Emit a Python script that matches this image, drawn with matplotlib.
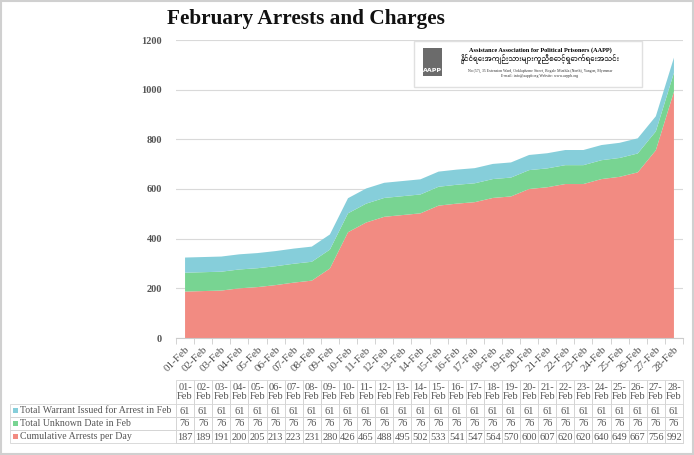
import matplotlib
matplotlib.use("Agg")
import matplotlib.pyplot as plt
from matplotlib.patches import Rectangle
import numpy as np

days = ["01-Feb", "02-Feb", "03-Feb", "04-Feb", "05-Feb", "06-Feb", "07-Feb",
        "08-Feb", "09-Feb", "10-Feb", "11-Feb", "12-Feb", "13-Feb", "14-Feb",
        "15-Feb", "16-Feb", "17-Feb", "18-Feb", "19-Feb", "20-Feb", "21-Feb",
        "22-Feb", "23-Feb", "24-Feb", "25-Feb", "26-Feb", "27-Feb", "28-Feb"]
cumulative = [187, 189, 191, 200, 205, 213, 223, 231, 280, 426, 465, 488, 495, 502,
              533, 541, 547, 564, 570, 600, 607, 620, 620, 640, 649, 667, 756, 992]
unknown = [76] * 28
warrant = [61] * 28

series_names = ["Total Warrant Issued for Arrest in Feb",
                "Total Unknown Date in Feb",
                "Cumulative Arrests per Day"]
colors = ["#86CEDA", "#78D492", "#F28B82"]
yticks = [0, 200, 400, 600, 800, 1000, 1200]

plt.rcParams['font.family'] = ['Liberation Serif', 'DejaVu Serif']
W, H = 694, 455
fig = plt.figure(figsize=(W / 100, H / 100), dpi=100)

# pixel helpers
def fx(px):
    return px / W

def fy(py):
    return 1 - py / H

left, right, top, bottom = 176, 683, 40, 338
ax = fig.add_axes([fx(left), fy(bottom), fx(right - left), (bottom - top) / H])

x = np.arange(len(days))
ax.stackplot(x, cumulative, unknown, warrant, colors=[colors[2], colors[1], colors[0]],
             linewidth=0)
ax.set_xlim(-0.5, len(days) - 0.5)
ax.set_ylim(0, 1200)
ax.set_yticks(yticks)
ax.set_yticklabels([str(v) for v in yticks], fontsize=7.5, color="#555555",
                   fontweight="bold")
ax.set_xticks(x)
ax.set_xticklabels(days, rotation=45, ha="right", rotation_mode="anchor",
                   fontsize=8, color="#555555")
ax.set_xticks(np.arange(-0.5, len(days)), minor=True)
ax.tick_params(axis="x", which="major", length=0, pad=5)
ax.tick_params(axis="x", which="minor", length=4, color="#cccccc")
ax.tick_params(axis="y", length=0, pad=10)
ax.grid(axis="y", color="#d9d9d9", linewidth=0.8)
ax.set_axisbelow(True)
for s in ["top", "right", "left"]:
    ax.spines[s].set_visible(False)
ax.spines["bottom"].set_color("#cccccc")

fig.text(fx(306), fy(19), "February Arrests and Charges", fontsize=15.3,
         fontweight="bold", ha="center", va="center", color="#111111")

# logo box
ov = fig.add_axes([0, 0, 1, 1])
ov.set_xlim(0, W)
ov.set_ylim(H, 0)
ov.axis("off")
ov.add_patch(Rectangle((1, 1), W - 2, H - 2, fill=False, edgecolor="#d0d0d0", lw=1.5))
ov.add_patch(Rectangle((414, 41), 228, 46, facecolor="white", edgecolor="#e0e0e0", lw=1))
ov.add_patch(Rectangle((423, 48), 19, 28, facecolor="#6b6b6b", edgecolor="none"))
ov.text(432.5, 71, "AAPP", color="white", fontsize=4.5, fontweight="bold",
        ha="center", va="center", family="DejaVu Sans")
ov.text(540, 50, "Assistance Association for Political Prisoners (AAPP)", fontsize=4.5,
        fontweight="bold", ha="center", va="center")
ov.text(540, 59, "နိုင်ငံရေးအကျဉ်းသားများကူညီစောင့်ရှောက်ရေးအသင်း", fontsize=5,
        ha="center", va="center", family=["Noto Sans Myanmar", "Noto Sans", "DejaVu Sans"])
ov.text(540, 71, "No.(57), 35 Extension Ward, Ooklapheme Street, Bogale Minthla (North), Yangon, Myanmar",
        fontsize=2.8, ha="center", va="center", color="#333333")
ov.text(540, 76, "E-mail: info@aappb.org Website: www.aappb.org", fontsize=2.8,
        ha="center", va="center", color="#333333")

# data table
colw = (right - left) / len(days)
row_y = [380, 404, 417, 430, 443]
lab_left = 10
grid_c = "#d5d5d5"
tcol = "#555555"
for i, d in enumerate(days):
    x0 = left + i * colw
    ov.add_patch(Rectangle((x0, row_y[0]), colw, row_y[-1] - row_y[0], fill=False,
                           edgecolor=grid_c, lw=0.6))
    dd, mm = d.split("-")
    ov.text(x0 + colw / 2, (row_y[0] + row_y[1]) / 2, dd + "-\n" + mm, fontsize=7.5,
            ha="center", va="center", color=tcol, linespacing=1.0)
rows = [warrant, unknown, cumulative]
for r in range(3):
    y0, y1 = row_y[r + 1], row_y[r + 2]
    ov.add_patch(Rectangle((lab_left, y0), left - lab_left, y1 - y0, fill=False,
                           edgecolor=grid_c, lw=0.6))
    for i in range(len(days)):
        ov.add_patch(Rectangle((left + i * colw, y0), colw, y1 - y0, fill=False,
                               edgecolor=grid_c, lw=0.6))
        ov.text(left + i * colw + colw / 2, (y0 + y1) / 2 + 0.5, str(rows[r][i]),
                fontsize=7.5, ha="center", va="center", color=tcol)
    ov.add_patch(Rectangle((lab_left + 3, (y0 + y1) / 2 - 2.5), 5, 5,
                           facecolor=colors[r], edgecolor="none"))
    ov.text(lab_left + 10, (y0 + y1) / 2, series_names[r], fontsize=7.1,
            ha="left", va="center", color=tcol)

fig.savefig("out.png", dpi=100)
